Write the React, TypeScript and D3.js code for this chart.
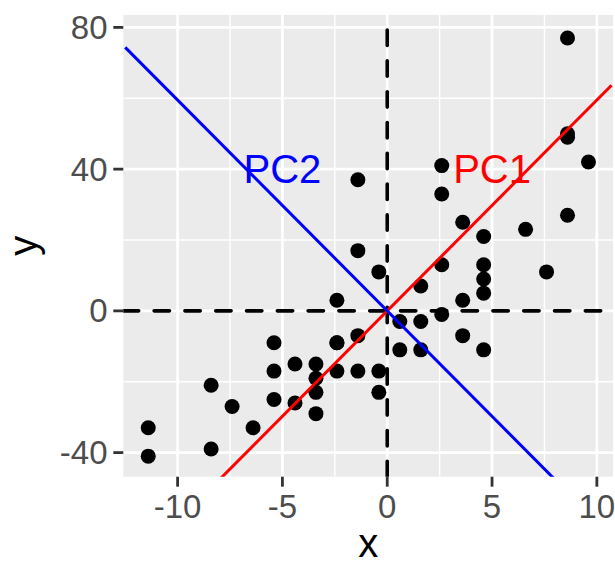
import React from "react";
import * as d3 from "d3";

// centred points
const xs = [
  -11.4, -11.4, -8.4, -8.4, -7.4, -6.4, -5.4, -5.4, -5.4, -4.4,
  -4.4, -3.4, -3.4, -3.4, -3.4, -2.4, -2.4, -2.4, -2.4, -1.4,
  -1.4, -1.4, -1.4, -0.4, -0.4, -0.4, 0.6, 0.6, 1.6, 1.6,
  1.6, 2.6, 2.6, 2.6, 2.6, 3.6, 3.6, 3.6, 4.6, 4.6,
  4.6, 4.6, 4.6, 6.6, 7.6, 8.6, 8.6, 8.6, 8.6, 9.6,
];
const ys = [
  -41.0, -33.0, -39.0, -21.0, -27.0, -33.0, -25.0, -17.0, -9.0, -26.0,
  -15.0, -29.0, -23.0, -19.0, -15.0, -17.0, -9.0, -9.0, 3.0, -17.0,
  -7.0, 17.0, 37.0, -23.0, -17.0, 11.0, -11.0, -3.0, -11.0, -3.0,
  7.0, -1.0, 13.0, 33.0, 41.0, -7.0, 3.0, 25.0, -11.0, 5.0,
  9.0, 13.0, 21.0, 23.0, 11.0, 27.0, 49.0, 50.0, 77.0, 42.0,
];

const xTicks = [-10, -5, 0, 5, 10];
const xMinor = [-7.5, -2.5, 2.5, 7.5];
const yTicks = [-40, 0, 40, 80];
const yMinor = [-20, 20, 60];

const pcNames = ["PC1", "PC2"];
const pcSlopes = [5.95, -5.95];
const pcColors = ["#FF0000", "#0000FF"];
const pcLabelX = [5, -5];
const pcLabelY = [40, 40];
const pcLineX = [-12.5, 10.7];

const W = 615;
const H = 566;
const panel = { left: 123.3, right: 613, top: 15, bottom: 476.7 };
const font = "'Liberation Sans', Arial, Helvetica, sans-serif";

export default function App() {
  const x = d3.scaleLinear().domain([-12.59, 10.77]).range([panel.left, panel.right]);
  const y = d3.scaleLinear().domain([-46.8, 83.5]).range([panel.bottom, panel.top]);

  const line = d3
    .line<[number, number]>()
    .x((d) => x(d[0]))
    .y((d) => y(d[1]));

  const points = xs.map((v, i) => ({ x: v, y: ys[i] }));

  return (
    <svg
      width={W}
      height={H}
      style={{ position: "absolute", left: 0, top: 0, display: "block", background: "#fff" }}
      fontFamily={font}
    >
      <defs>
        <clipPath id="panel-clip">
          <rect x={panel.left} y={panel.top} width={panel.right - panel.left} height={panel.bottom - panel.top} />
        </clipPath>
      </defs>

      {/* panel background */}
      <rect
        x={panel.left}
        y={panel.top}
        width={panel.right - panel.left}
        height={panel.bottom - panel.top}
        fill="#EBEBEB"
      />

      {/* grid */}
      {xMinor.map((t) => (
        <line key={"xm" + t} x1={x(t)} x2={x(t)} y1={panel.top} y2={panel.bottom} stroke="#fff" strokeWidth={1.4} />
      ))}
      {yMinor.map((t) => (
        <line key={"ym" + t} x1={panel.left} x2={panel.right} y1={y(t)} y2={y(t)} stroke="#fff" strokeWidth={1.4} />
      ))}
      {xTicks.map((t) => (
        <line key={"xg" + t} x1={x(t)} x2={x(t)} y1={panel.top} y2={panel.bottom} stroke="#fff" strokeWidth={2.8} />
      ))}
      {yTicks.map((t) => (
        <line key={"yg" + t} x1={panel.left} x2={panel.right} y1={y(t)} y2={y(t)} stroke="#fff" strokeWidth={2.8} />
      ))}

      <g clipPath="url(#panel-clip)">
        {/* reference lines at zero */}
        <line
          x1={panel.left}
          x2={panel.right}
          y1={y(0)}
          y2={y(0)}
          stroke="#000"
          strokeWidth={3.6}
          strokeDasharray="15.4 15.4"
          strokeLinecap="round"
        />
        <line
          x1={x(0)}
          x2={x(0)}
          y1={panel.bottom}
          y2={panel.top}
          stroke="#000"
          strokeWidth={3.6}
          strokeDasharray="15.4 15.4"
          strokeLinecap="round"
        />

        {/* points */}
        {points.map((d, i) => (
          <circle key={i} cx={x(d.x)} cy={y(d.y)} r={7.5} fill="#000" />
        ))}

        {/* principal component lines */}
        {pcNames.map((name, i) => (
          <path
            key={name}
            d={line(pcLineX.map((v) => [v, v * pcSlopes[i]] as [number, number])) || ""}
            fill="none"
            stroke={pcColors[i]}
            strokeWidth={3}
          />
        ))}
      </g>

      {/* PC labels */}
      {pcNames.map((name, i) => (
        <text
          key={"lab" + name}
          x={x(pcLabelX[i])}
          y={y(pcLabelY[i]) + 14}
          textAnchor="middle"
          fontSize={40}
          fill={pcColors[i]}
        >
          {name}
        </text>
      ))}

      {/* axes ticks */}
      {yTicks.map((t) => (
        <g key={"yt" + t}>
          <line x1={panel.left - 10} x2={panel.left} y1={y(t)} y2={y(t)} stroke="#333333" strokeWidth={2.8} />
          <text x={107.5} y={y(t) + 11.5} textAnchor="end" fontSize={33} fill="#4D4D4D">
            {t}
          </text>
        </g>
      ))}
      {xTicks.map((t) => (
        <g key={"xt" + t}>
          <line x1={x(t)} x2={x(t)} y1={panel.bottom} y2={panel.bottom + 10} stroke="#333333" strokeWidth={2.8} />
          <text x={x(t)} y={517.5} textAnchor="middle" fontSize={33} fill="#4D4D4D">
            {t}
          </text>
        </g>
      ))}

      {/* axis titles */}
      <text x={(panel.left + panel.right) / 2} y={557} textAnchor="middle" fontSize={40} fill="#000">
        x
      </text>
      <text
        transform={`translate(36.5,${(panel.top + panel.bottom) / 2}) rotate(-90)`}
        textAnchor="middle"
        fontSize={40}
        fill="#000"
      >
        y
      </text>
    </svg>
  );
}
